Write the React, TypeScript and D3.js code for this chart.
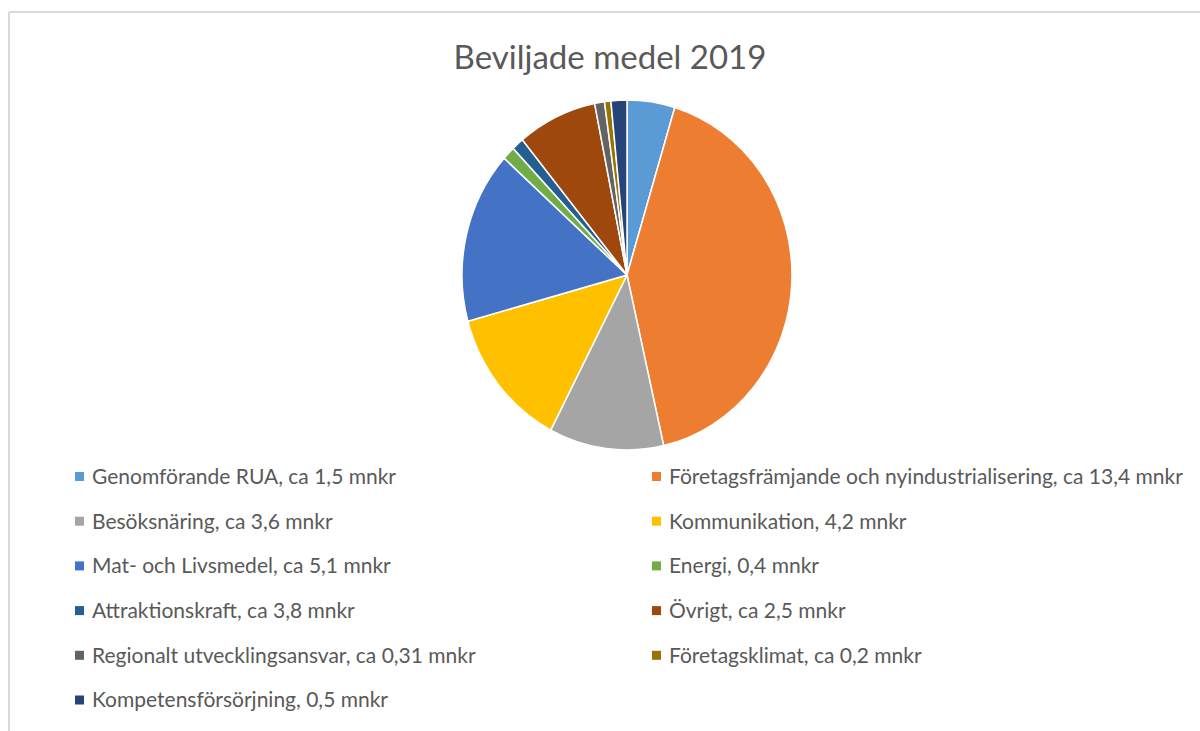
import React from "react";
import * as d3 from "d3";

const categories = [
  "Genomförande RUA, ca 1,5 mnkr",
  "Företagsfrämjande och nyindustrialisering, ca 13,4 mnkr",
  "Besöksnäring, ca 3,6 mnkr",
  "Kommunikation, 4,2 mnkr",
  "Mat- och Livsmedel, ca 5,1 mnkr",
  "Energi, 0,4 mnkr",
  "Attraktionskraft, ca 3,8 mnkr",
  "Övrigt, ca 2,5 mnkr",
  "Regionalt utvecklingsansvar, ca 0,31 mnkr",
  "Företagsklimat, ca 0,2 mnkr",
  "Kompetensförsörjning, 0,5 mnkr",
];
const values = [1.5, 13.4, 3.6, 4.2, 5.1, 0.4, 0.38, 2.5, 0.31, 0.2, 0.5];
const colors = [
  "#5B9BD5", "#ED7D31", "#A5A5A5", "#FFC000", "#4472C4", "#70AD47",
  "#255E91", "#9E480E", "#636363", "#997300", "#264478",
];
const title = "Beviljade medel 2019";

export default function App() {
  const W = 1200, H = 731;
  const cx = 627, cy = 275, rx = 165, ry = 175;
  const pie = d3.pie<number>().sort(null).value((d) => d)(values);
  const arc = d3.arc<d3.PieArcDatum<number>>().innerRadius(0).outerRadius(rx);
  const font = "Lato, 'Open Sans', sans-serif";
  const textColor = "#595959";
  const rowY0 = 476.5, rowStep = 44.7;
  const colX = [75, 652];
  return (
    <svg width={W} height={H} style={{ position: "absolute", left: 0, top: 0 }}>
      <rect x={0} y={0} width={W} height={H} fill="#fff" />
      <line x1={9} y1={12} x2={W} y2={12} stroke="#d9d9d9" strokeWidth={2} />
      <line x1={9} y1={12} x2={9} y2={H} stroke="#d9d9d9" strokeWidth={2} />
      <text x={610} y={69} textAnchor="middle" fontFamily={font} fontSize={33} fill={textColor}>
        {title}
      </text>
      <g transform={`translate(${cx},${cy}) scale(1,${ry / rx})`}>
        {pie.map((p, i) => (
          <path key={i} d={arc(p) || ""} fill={colors[i]} stroke="#fff" strokeWidth={1.5} />
        ))}
      </g>
      {categories.map((c, i) => {
        const col = i % 2;
        const row = Math.floor(i / 2);
        const y = rowY0 + row * rowStep;
        const x = colX[col];
        return (
          <g key={i}>
            <rect x={x} y={y - 4.5} width={9} height={9} fill={colors[i]} />
            <text x={x + 17} y={y} dy="0.35em" fontFamily={font} fontSize={21} fill={textColor}>
              {c}
            </text>
          </g>
        );
      })}
    </svg>
  );
}
